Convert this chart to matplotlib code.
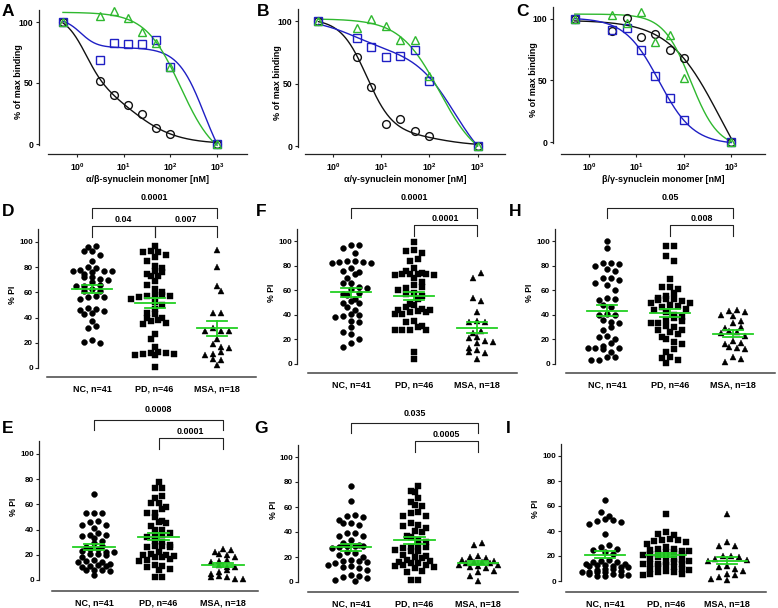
import numpy as np
import matplotlib
matplotlib.use('Agg')
import matplotlib.pyplot as plt

plt.rcParams['font.family'] = ['Liberation Sans', 'DejaVu Sans']
plt.rcParams['font.weight'] = 'bold'
plt.rcParams['mathtext.fontset'] = 'custom'
plt.rcParams['mathtext.rm'] = 'Liberation Sans:bold'
plt.rcParams['mathtext.it'] = 'Liberation Sans:bold'
plt.rcParams['mathtext.bf'] = 'Liberation Sans:bold'

# ---------------- data: competition binding (panels A-C) ----------------
conc = [0.5, 3.125, 6.25, 12.5, 25, 50, 100, 1000]

A_circle = [100, 52, 40, 32, 25, 13, 8, 0]
A_square = [100, 69, 83, 82, 82, 85, 63, 0]
A_triangle = [100, 105, 109, 103, 92, 83, 63, 0]

B_circle = [100, 71, 47, 18, 22, 12, 8, 0]
B_square = [100, 87, 79, 71, 72, 77, 52, 0]
B_triangle = [100, 95, 102, 96, 85, 85, 56, 0]

C_circle = [100, 90, 101, 85, 88, 75, 68, 0]
C_square = [100, 91, 93, 75, 54, 36, 18, 0]
C_triangle = [100, 103, 97, 106, 81, 87, 52, 0]

# fitted curve parameters: top, bottom, fraction site1, IC50 1, hill 1, IC50 2, hill 2
A_circle_fit = [107, 0, 0.5, 1.5, 2.0, 15, 0.9]
A_square_fit = [103, -30, 0.18, 1.2, 2.5, 532, 1.53]
A_triangle_fit = [108, -15, 0.0, 1.0, 1.0, 166, 1.15]
B_circle_fit = [102, 0, 0.9, 5.0, 1.6, 150, 1.0]
B_square_fit = [102, -25, 0.2, 2.5, 1.0, 340, 1.04]
B_triangle_fit = [102, -15, 0.0, 1.0, 1.0, 163, 1.05]
C_circle_fit = [99, -60, 0.0, 1.0, 1.0, 589, 0.8]
C_square_fit = [101, -2, 0.0, 1.0, 1.0, 30, 1.2]
C_triangle_fit = [104, -5, 0.0, 1.0, 1.0, 140, 1.5]

x_labels_top = ['\u03b1/\u03b2-synuclein monomer [nM]',
                '\u03b1/\u03b3-synuclein monomer [nM]',
                '\u03b2/\u03b3-synuclein monomer [nM]']

# ---------------- data: % PI scatter (panels D-I) ----------------
groups = ['NC, n=41', 'PD, n=46', 'MSA, n=18']

D_NC = [97, 96, 93, 93, 90, 85, 80, 79, 78, 77, 77, 77, 76, 75, 72, 72, 71, 70, 68, 66,
        65, 65, 63, 61, 61, 57, 56, 56, 55, 48, 47, 46, 45, 44, 43, 37, 33, 32, 22, 21, 20]
D_PD = [97, 93, 92, 92, 90, 88, 85, 81, 79, 77, 76, 75, 73, 73, 69, 66, 63, 60, 58, 58,
        57, 57, 56, 55, 52, 50, 47, 44, 43, 40, 40, 38, 37, 36, 35, 27, 23, 17, 13, 12,
        11, 11, 10, 10, 12, 1]
D_MSA = [94, 80, 65, 61, 44, 44, 32, 29, 29, 29, 23, 19, 17, 16, 13, 11, 10, 7, 6, 2]

F_NC = [97, 97, 94, 90, 84, 84, 83, 83, 82, 82, 78, 76, 75, 73, 70, 66, 66, 63, 62, 61,
        58, 57, 56, 53, 51, 50, 50, 46, 44, 41, 40, 39, 38, 35, 34, 30, 26, 24, 20, 17, 14]
F_PD = [99, 93, 92, 90, 85, 84, 78, 76, 74, 73, 73, 73, 73, 72, 72, 70, 67, 64, 63, 60,
        58, 57, 55, 53, 49, 46, 45, 44, 43, 42, 42, 41, 41, 35, 34, 31, 30, 28, 28, 28,
        28, 44, 62, 48, 10, 4]
F_MSA = [74, 70, 54, 51, 42, 35, 34, 34, 27, 25, 22, 21, 19, 18, 17, 13, 11, 10, 9, 4]

H_NC = [100, 94, 82, 82, 81, 80, 77, 76, 70, 70, 68, 66, 64, 60, 54, 53, 52, 41, 40, 40,
        36, 34, 30, 23, 22, 20, 17, 15, 13, 13, 13, 12, 10, 28, 33, 46, 6, 48, 6, 3, 3]
H_PD = [96, 96, 88, 84, 69, 63, 63, 61, 58, 55, 54, 53, 53, 52, 51, 50, 50, 48, 47, 46,
        45, 44, 42, 40, 38, 37, 36, 35, 33, 33, 31, 30, 28, 28, 26, 24, 22, 20, 18, 16,
        12, 10, 6, 5, 3, 1]
H_MSA = [44, 43, 42, 40, 39, 35, 33, 30, 29, 27, 26, 25, 23, 19, 17, 16, 14, 13, 12, 6, 4, 2]

E_NC = [68, 53, 53, 53, 47, 46, 44, 44, 41, 37, 36, 36, 31, 29, 27, 26, 25, 25, 23, 22,
        22, 21, 21, 20, 18, 16, 15, 14, 14, 13, 11, 11, 10, 8, 8, 8, 7, 12, 4, 33, 35]
E_PD = [78, 73, 73, 67, 65, 61, 61, 58, 56, 53, 53, 50, 47, 46, 45, 43, 40, 40, 37, 36,
        35, 34, 31, 30, 28, 27, 27, 26, 26, 22, 21, 20, 20, 19, 18, 18, 17, 16, 15, 12,
        11, 10, 9, 8, 2, 2]
E_MSA = [25, 24, 22, 21, 20, 18, 16, 15, 14, 12, 10, 10, 8, 6, 5, 3, 2, 2, 1, 1]

G_NC = [77, 65, 54, 53, 52, 50, 47, 47, 46, 39, 39, 37, 37, 34, 31, 30, 29, 29, 29, 28,
        27, 24, 23, 22, 20, 18, 17, 17, 16, 15, 14, 13, 12, 11, 6, 5, 4, 3, 2, 1, 10]
G_PD = [77, 73, 72, 67, 64, 62, 61, 56, 55, 53, 53, 47, 46, 45, 43, 41, 40, 37, 36, 34,
        32, 30, 28, 28, 27, 26, 25, 25, 22, 21, 20, 19, 18, 17, 16, 15, 15, 14, 14, 13,
        12, 11, 9, 8, 2, 2]
G_MSA = [31, 30, 21, 20, 19, 18, 17, 16, 16, 15, 15, 14, 14, 13, 12, 11, 9, 8, 5, 1]

I_NC = [65, 55, 52, 50, 49, 48, 47, 46, 38, 29, 27, 23, 22, 15, 15, 14, 14, 13, 13, 12,
        12, 11, 11, 10, 10, 9, 8, 7, 7, 7, 7, 6, 6, 5, 5, 4, 4, 16, 17, 25, 26]
I_PD = [54, 39, 38, 37, 34, 33, 33, 32, 31, 30, 27, 26, 26, 25, 24, 23, 23, 22, 22, 21,
        20, 19, 18, 18, 17, 16, 15, 15, 14, 14, 13, 12, 11, 10, 10, 9, 8, 7, 7, 6,
        6, 5, 14, 14, 22, 24]
I_MSA = [54, 31, 28, 28, 20, 20, 19, 18, 17, 16, 12, 11, 10, 8, 6, 5, 3, 2, 1]

D_pvals = [('0.0001', 0, 2, 1), ('0.04', 0, 1, 2), ('0.007', 1, 2, 2)]
F_pvals = [('0.0001', 0, 2, 1), ('0.0001', 1, 2, 2)]
H_pvals = [('0.05', 0, 2, 1), ('0.008', 1, 2, 2)]
E_pvals = [('0.0008', 0, 2, 1), ('0.0001', 1, 2, 2)]
G_pvals = [('0.035', 0, 2, 1), ('0.0005', 1, 2, 2)]
I_pvals = []

# ---------------- styling ----------------
W, H = 778, 608
BLACK = '#111111'
BLUE = '#1f1fc4'
GREEN = '#2fb82f'
MEANG = '#22d022'
FS = 6.2

fig = plt.figure(figsize=(W / 100, H / 100), dpi=100)


def fx(px):
    return px / W


def fy(py):
    return 1 - py / H


def model(x, p):
    T, B, F, c1, h1, c2, h2 = p
    return B + (T - B) * (F / (1 + (x / c1) ** h1) + (1 - F) / (1 + (x / c2) ** h2))


def top_panel(yspine, x0px, dec, line_start, line_end, y0, ppu, xaxis,
              circ, sq, tri, fits, xlabel):
    lo = 10 ** ((yspine - x0px) / dec)
    hi = 10 ** ((line_end - x0px) / dec)
    ls = 10 ** ((line_start - x0px) / dec)
    ybot = -(xaxis - y0) / ppu
    ytop = 110
    top_px = y0 - ytop * ppu
    ax = fig.add_axes([fx(yspine), fy(xaxis), fx(line_end - yspine), (xaxis - top_px) / H])
    ax.set_xscale('log')
    ax.set_xlim(lo, hi)
    ax.set_ylim(ybot, ytop)
    xs = np.logspace(np.log10(conc[0]), np.log10(conc[-1]), 300)
    for vals, fit, col, mk in [(circ, fits[0], BLACK, 'o'), (sq, fits[1], BLUE, 's'),
                               (tri, fits[2], GREEN, '^')]:
        ax.plot(xs, model(xs, fit), color=col, lw=1.0, zorder=2)
        ax.plot(conc, vals, ls='none', marker=mk, ms=5.2 if mk != 'o' else 5.6,
                mfc='none', mec=col, mew=1.0, zorder=3, clip_on=False)
    for s in ['top', 'right']:
        ax.spines[s].set_visible(False)
    ax.spines['left'].set_bounds(-1, ytop)
    ax.spines['bottom'].set_bounds(ls, hi)
    for s in ['left', 'bottom']:
        ax.spines[s].set_linewidth(0.9)
        ax.spines[s].set_color('#222222')
    ax.set_yticks([0, 50, 100])
    ax.set_xticks([1, 10, 100, 1000])
    ax.set_xticklabels(['$10^{0}$', '$10^{1}$', '$10^{2}$', '$10^{3}$'])
    ax.minorticks_off()
    ax.tick_params(axis='both', length=2.5, width=0.8, labelsize=FS, pad=1.5,
                   color='#222222')
    ax.tick_params(axis='x', pad=2.5)
    ax.patch.set_alpha(0)
    fig.text(fx((line_start + line_end) / 2), fy(180), xlabel, ha='center', va='center',
             fontsize=FS + 0.3, fontweight='bold')
    fig.text(fx(yspine - 20), fy((y0 + top_px) / 2 + 5), '% of max binding', rotation=90,
             ha='center', va='center', fontsize=FS + 0.3, fontweight='bold')
    return ax


def row_offsets(vals, ppu_y, bin_px, step_px, maxn=6):
    """Prism-style scatter: points whose values fall within one row height are
    spread side by side, centred on the group position (rows capped in width)."""
    v = np.asarray(vals, float)
    order = np.argsort(-v, kind='stable')
    rows, cur, start = [], [], None
    for i in order:
        if cur and ((v[start] - v[i]) * ppu_y > bin_px or len(cur) >= maxn):
            rows.append(cur)
            cur = []
        if not cur:
            start = i
        cur.append(i)
    if cur:
        rows.append(cur)
    xs = np.zeros(len(v))
    prev_par = None
    for r_idx, r in enumerate(rows):
        n = len(r)
        shift = 0.0
        # if two neighbouring rows share parity and are close, shift half a step
        if prev_par is not None and n % 2 == prev_par[0] and \
                abs(v[r[0]] - prev_par[1]) * ppu_y < bin_px * 1.2:
            shift = step_px / 2 * (1 if r_idx % 2 else -1)
        slots = [(j - (n - 1) / 2) * step_px + shift for j in range(n)]
        slot_order = sorted(range(n), key=lambda j: (abs(slots[j]),
                                                     slots[j] * (1 if r_idx % 2 else -1)))
        for k, i in enumerate(r):
            xs[i] = slots[slot_order[k]]
        prev_par = (n % 2, v[r[-1]])
    return xs


def scatter_panel(yspine, cat0, spacing, line_start, line_end, y0, ppu, xaxis,
                  series, pvals):
    ytop = 110
    top_px = y0 - ytop * ppu
    ybot = -(xaxis - y0) / ppu
    ax = fig.add_axes([fx(yspine), fy(xaxis), fx(line_end - yspine), (xaxis - top_px) / H])
    xlo = -(cat0 - yspine) / spacing
    xhi = (line_end - cat0) / spacing
    ax.set_xlim(xlo, xhi)
    ax.set_ylim(ybot, ytop)
    for k, (vals, mk) in enumerate(zip(series, ['o', 's', '^'])):
        off = row_offsets(vals, ppu, 5.0, 7.8) / spacing
        ax.plot(k + off, vals, ls='none', marker=mk, ms=4.2 if mk == 'o' else 3.9,
                mfc='black', mec='black', mew=0.3, zorder=2, clip_on=False)
        v = np.asarray(vals, float)
        m = v.mean()
        se = v.std(ddof=1) / np.sqrt(len(v))
        ax.plot([k - 0.32, k + 0.32], [m, m], color=MEANG, lw=1.3, zorder=3)
        ax.plot([k - 0.16, k + 0.16], [m + se, m + se], color=MEANG, lw=1.3, zorder=3)
        ax.plot([k - 0.16, k + 0.16], [m - se, m - se], color=MEANG, lw=1.3, zorder=3)
        ax.plot([k, k], [m - se, m + se], color=MEANG, lw=1.3, zorder=3)
    for s in ['top', 'right']:
        ax.spines[s].set_visible(False)
    ax.spines['left'].set_bounds(0, ytop)
    ax.spines['bottom'].set_bounds((line_start - cat0) / spacing, xhi)
    ax.spines['left'].set_linewidth(0.9)
    ax.spines['bottom'].set_linewidth(1.1)
    ax.spines['left'].set_color('#222222')
    ax.spines['bottom'].set_color('#444444')
    ax.set_yticks([0, 20, 40, 60, 80, 100])
    ax.set_xticks([0, 1, 2])
    ax.set_xticklabels(groups)
    ax.tick_params(axis='y', length=2.5, width=0.8, labelsize=FS - 0.4, pad=1.2,
                   color='#222222')
    ax.tick_params(axis='x', length=0, labelsize=FS + 0.3, pad=5.5)
    ax.patch.set_alpha(0)
    for text, a, b, level in pvals:
        if level == 1:
            yt, ye, gap = 127, 119, 4.5
        else:
            yt, ye, gap = 113, 104, 1.5
        ax.plot([a, a, b, b], [ye, yt, yt, ye], color='#222222', lw=0.8,
                clip_on=False, zorder=1)
        ax.text((a + b) / 2, yt + gap, text, ha='center', va='bottom',
                fontsize=FS + 0.2, fontweight='bold', clip_on=False)
    fig.text(fx(yspine - 25), fy(y0 - 58 * ppu), '% PI', rotation=90, ha='center',
             va='center', fontsize=FS, fontweight='bold')
    return ax


# ---------------- top row ----------------
top_panel(39, 77, 46.7, 48, 247, 144, 1.22, 154,
          A_circle, A_square, A_triangle, [A_circle_fit, A_square_fit, A_triangle_fit],
          x_labels_top[0])
top_panel(298, 333, 48.2, 305, 505, 146, 1.247, 154,
          B_circle, B_square, B_triangle, [B_circle_fit, B_square_fit, B_triangle_fit],
          x_labels_top[1])
top_panel(553, 589, 47.4, 561, 765, 142, 1.23, 154,
          C_circle, C_square, C_triangle, [C_circle_fit, C_square_fit, C_triangle_fit],
          x_labels_top[2])

# ---------------- middle row ----------------
scatter_panel(38, 92, 62.5, 47, 256, 368, 1.26, 377, [D_NC, D_PD, D_MSA], D_pvals)
scatter_panel(297, 351, 63, 308, 517, 364, 1.23, 373, [F_NC, F_PD, F_MSA], F_pvals)
scatter_panel(555, 607, 63, 566, 775, 364, 1.23, 373, [H_NC, H_PD, H_MSA], H_pvals)

# ---------------- bottom row ----------------
scatter_panel(39, 94, 64.5, 52, 258, 580, 1.26, 591, [E_NC, E_PD, E_MSA], E_pvals)
scatter_panel(298, 351, 63.5, 308, 518, 582, 1.25, 592, [G_NC, G_PD, G_MSA], G_pvals)
scatter_panel(561, 605, 61, 566, 766, 581, 1.25, 592, [I_NC, I_PD, I_MSA], I_pvals)

# ---------------- panel letters ----------------
for letter, px, py in [('A', 2, 4), ('B', 257, 4), ('C', 516, 4),
                       ('D', 2, 204), ('F', 256, 204), ('H', 509, 204),
                       ('E', 2, 421), ('G', 254, 421), ('I', 506, 421)]:
    fig.text(fx(px), fy(py), letter, ha='left', va='top', fontsize=12.5,
             fontweight='bold', family=['Liberation Sans', 'DejaVu Sans'])

fig.savefig('out.png', dpi=100, facecolor='white')
